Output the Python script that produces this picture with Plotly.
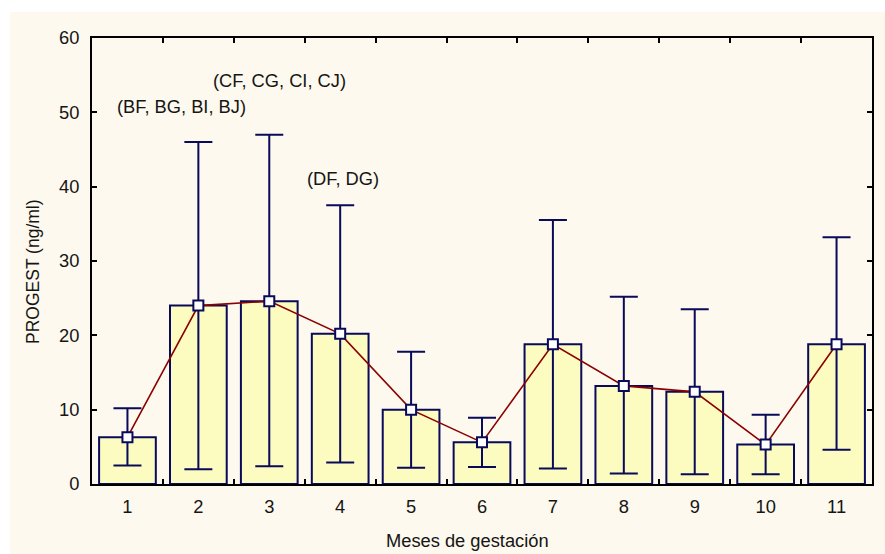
import plotly.graph_objects as go

months = ["1", "2", "3", "4", "5", "6", "7", "8", "9", "10", "11"]
means = [6.3, 24.0, 24.6, 20.2, 10.0, 5.6, 18.8, 13.2, 12.4, 5.3, 18.8]
upper = [10.2, 46.0, 47.0, 37.5, 17.8, 8.9, 35.5, 25.2, 23.5, 9.3, 33.2]
lower = [2.5, 2.0, 2.4, 2.9, 2.2, 2.3, 2.1, 1.4, 1.3, 1.3, 4.6]

ann_text = ["(BF, BG, BI, BJ)", "(CF, CG, CI, CJ)", "(DF, DG)"]
ann_x = [0.76, 2.14, 3.04]
ann_y = [50.8, 54.3, 41.1]

x_title = "Meses de gestación"
y_title = "PROGEST (ng/ml)"

err_plus = [u - m for u, m in zip(upper, means)]
err_minus = [m - l for m, l in zip(means, lower)]

NAVY = "#0a0a5a"
FONT = "Liberation Sans, Arial, sans-serif"
TXT = "#151515"
FS = 18.3

# plot area in pixels
L, R, T, B = 92, 872, 38, 484
W, H = R - L, B - T

fig = go.Figure()
fig.add_trace(go.Bar(
    x=months, y=means, width=0.8,
    marker=dict(color="#fcfbc0", line=dict(color=NAVY, width=2)),
    error_y=dict(type="data", symmetric=False, array=err_plus, arrayminus=err_minus,
                 color=NAVY, thickness=2, width=14),
    showlegend=False,
))
fig.add_trace(go.Scatter(
    x=months, y=means, mode="lines+markers",
    line=dict(color="#8b0000", width=1.6),
    marker=dict(symbol="square", size=10, color="white", line=dict(color=NAVY, width=2)),
    showlegend=False,
))

for t, x, y in zip(ann_text, ann_x, ann_y):
    fig.add_annotation(x=x, y=y, text=t, showarrow=False, xref="x", yref="y",
                       font=dict(size=FS, color=TXT, family=FONT))

# axis titles as annotations (positioned as in reference)
fig.add_annotation(x=(467.5 - L) / W, y=(B - 540) / H, xref="paper", yref="paper",
                   text=x_title, showarrow=False, xanchor="center", yanchor="middle",
                   font=dict(size=FS, color=TXT, family=FONT))
fig.add_annotation(x=(33 - L) / W, y=(B - 272) / H, xref="paper", yref="paper",
                   text=y_title, showarrow=False, xanchor="center", yanchor="middle",
                   textangle=-90, font=dict(size=17.5, color=TXT, family=FONT))

fig.add_shape(type="rect", xref="paper", yref="paper",
              x0=(10 - L) / W, x1=(885 - L) / W,
              y0=(B - 554) / H, y1=(B - 12) / H,
              fillcolor="#fdf9ee", line=dict(width=0), layer="below")

fig.update_layout(
    width=885, height=554,
    margin=dict(l=L, r=885 - R, t=T, b=554 - B),
    paper_bgcolor="white", plot_bgcolor="white",
    font=dict(family=FONT, size=FS, color=TXT),
    bargap=0.2,
    xaxis=dict(type="category", tickson="boundaries", ticks="inside", ticklen=5,
               tickwidth=1.5, tickcolor="black", showline=True, linecolor="black",
               linewidth=2, mirror="allticks", showgrid=False,
               range=[-0.5, 10.5], ticklabelstandoff=5),
    yaxis=dict(range=[0, 60], dtick=10, ticks="inside", ticklen=5, tickwidth=1.5,
               tickcolor="black", showline=True, linecolor="black", linewidth=2,
               mirror="allticks", showgrid=False, zeroline=False, ticklabelstandoff=7),
)

fig.write_html("out.html")
